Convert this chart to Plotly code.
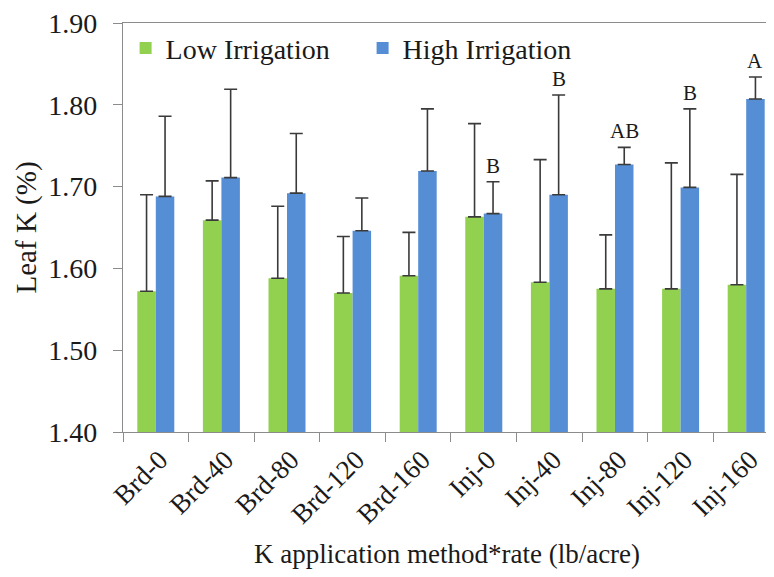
import plotly.graph_objects as go

categories = ["Brd-0", "Brd-40", "Brd-80", "Brd-120", "Brd-160",
              "Inj-0", "Inj-40", "Inj-80", "Inj-120", "Inj-160"]
low_irrigation = [1.572, 1.659, 1.588, 1.570, 1.591, 1.663, 1.583, 1.575, 1.575, 1.580]
low_err = [0.118, 0.048, 0.088, 0.069, 0.053, 0.114, 0.150, 0.066, 0.154, 0.135]
high_irrigation = [1.688, 1.711, 1.692, 1.646, 1.719, 1.667, 1.690, 1.727, 1.699, 1.807]
high_err = [0.098, 0.108, 0.073, 0.040, 0.076, 0.039, 0.122, 0.021, 0.096, 0.027]
high_letters = ["", "", "", "", "", "B", "B", "AB", "B", "A"]
y_ticks = [1.40, 1.50, 1.60, 1.70, 1.80, 1.90]
y_tick_labels = ["1.40", "1.50", "1.60", "1.70", "1.80", "1.90"]

FONT = "Liberation Serif, Times New Roman, serif"
TXT = "#1a1a1a"
GREEN = "#92D050"
BLUE = "#558ED5"
ERRC = "#3a3a3a"
AXC = "#8c8c8c"

fig = go.Figure()
fig.add_trace(go.Bar(
    name="Low Irrigation", x=categories, y=low_irrigation, marker_color=GREEN,
    marker_line_width=0,
    error_y=dict(type="data", array=low_err, arrayminus=[0] * len(low_err), symmetric=False,
                 color=ERRC, thickness=1.6, width=6.5),
))
fig.add_trace(go.Bar(
    name="High Irrigation", x=categories, y=high_irrigation, marker_color=BLUE,
    marker_line_width=0,
    error_y=dict(type="data", array=high_err, arrayminus=[0] * len(high_err), symmetric=False,
                 color=ERRC, thickness=1.6, width=6.5),
))

for c, v, e, t in zip(categories, high_irrigation, high_err, high_letters):
    if t:
        fig.add_annotation(x=c, y=v + e, text=t, showarrow=False, xshift=9.3,
                           yanchor="bottom", yshift=2,
                           font=dict(family=FONT, size=21, color=TXT))

# axis titles
fig.add_annotation(xref="paper", yref="paper", x=0.498, y=-0.299,
                   text="K application method*rate (lb/acre)", showarrow=False,
                   xanchor="center", yanchor="middle",
                   font=dict(family=FONT, size=27, color=TXT))
fig.add_annotation(xref="paper", yref="paper", x=-0.1475, y=0.5,
                   text="Leaf K (%)", showarrow=False, textangle=-90,
                   xanchor="center", yanchor="middle",
                   font=dict(family=FONT, size=29, color=TXT))

fig.update_layout(
    width=766, height=569,
    margin=dict(l=115, r=0, t=14.5, b=144.5),
    paper_bgcolor="white", plot_bgcolor="white",
    barmode="group", bargap=0.436, bargroupgap=0,
    font=dict(family=FONT, size=28, color=TXT),
    showlegend=True,
    legend=dict(orientation="h", x=0.004, y=0.938, xanchor="left", yanchor="middle",
                font=dict(family=FONT, size=28, color=TXT),
                entrywidth=192, entrywidthmode="pixels",
                bgcolor="rgba(0,0,0,0)", traceorder="normal"),
    xaxis=dict(
        type="category", range=[-0.5, 9.424], tickson="boundaries",
        ticks="outside", ticklen=9, tickcolor=AXC, tickwidth=1.3,
        showline=True, linecolor=AXC, linewidth=1.3, mirror=True,
        showgrid=False, tickangle=-45, ticklabelshift=4,
        tickfont=dict(family=FONT, size=27, color=TXT),
    ),
    yaxis=dict(
        range=[1.4, 1.9], tickmode="array", tickvals=y_ticks, ticktext=y_tick_labels,
        ticks="outside", ticklen=9, tickcolor=AXC, tickwidth=1.3,
        showline=True, linecolor=AXC, linewidth=1.3,
        showgrid=False, zeroline=False, ticklabeloverflow="allow",
        ticklabelstandoff=10,
        tickfont=dict(family=FONT, size=28, color=TXT),
    ),
)

fig.write_html("out.html")
